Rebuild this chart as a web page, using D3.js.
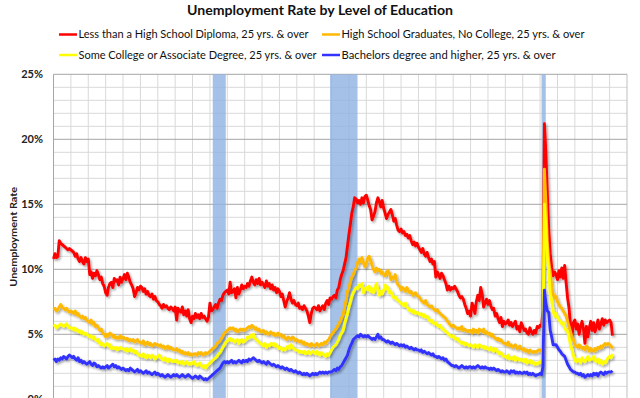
<!DOCTYPE html>
<html>
<head>
<meta charset="utf-8">
<script src="https://cdn.jsdelivr.net/npm/d3@7"></script>
<style>
  body { margin: 0; background: #fff; }
  svg { display: block; font-family: Lato, "Liberation Sans", sans-serif; }
</style>
</head>
<body>
<div id="chart"></div>
<script>
const width = 640;
const height = 398;

// monthly series, Jan 1992 .. Mar 2024 (one row per year)
const startDate = new Date(1992, 0, 1);

const lessThanHS = [
  10.8, 11.2, 10.9, 11.0, 12.2, 12.0, 11.9, 11.8, 11.7, 11.6, 11.5, 11.6, // 1992
  11.5, 11.4, 11.3, 11.0, 11.2, 10.8, 10.6, 10.9, 10.6, 10.4, 10.9, 10.6, // 1993
  10.8, 9.6, 9.8, 9.3, 9.7, 9.5, 9.9, 9.6, 9.2, 9.4, 8.9, 8.7,           // 1994
  8.2, 8.0, 8.6, 8.9, 9.0, 8.6, 9.3, 9.1, 9.2, 8.8, 9.4, 9.0,            // 1995
  9.3, 9.6, 9.2, 9.7, 9.4, 9.0, 8.8, 8.5, 7.9, 8.2, 8.6, 8.4,            // 1996
  8.7, 8.6, 8.3, 8.5, 8.1, 8.3, 8.0, 7.9, 8.1, 7.7, 7.9, 7.6,            // 1997
  7.5, 7.3, 7.2, 7.0, 7.3, 7.1, 7.2, 7.0, 6.9, 7.1, 7.0, 6.8,            // 1998
  7.1, 6.1, 7.0, 6.8, 6.7, 7.1, 6.5, 6.8, 6.4, 6.9, 6.2, 5.9,            // 1999
  6.4, 6.2, 6.6, 6.3, 6.5, 6.2, 6.6, 6.3, 6.4, 6.2, 6.0, 6.3,            // 2000
  7.4, 6.8, 6.9, 7.1, 7.3, 7.0, 7.4, 7.7, 7.6, 8.0, 8.2, 8.3,            // 2001
  8.4, 8.1, 9.0, 8.2, 8.3, 8.5, 7.8, 8.6, 8.1, 8.4, 8.8, 8.5,            // 2002
  8.7, 8.6, 8.9, 8.7, 9.1, 9.4, 9.0, 8.8, 9.2, 8.9, 9.3, 8.8,            // 2003
  9.0, 8.8, 8.6, 9.1, 8.7, 8.9, 8.5, 8.8, 8.4, 8.6, 8.2, 8.5,            // 2004
  8.3, 7.9, 8.1, 7.6, 7.1, 7.5, 7.8, 8.2, 7.7, 7.4, 7.6, 7.3,            // 2005
  7.2, 7.4, 7.0, 7.1, 6.9, 7.2, 7.0, 6.8, 6.4, 5.9, 6.6, 7.0,            // 2006
  7.1, 7.0, 6.9, 7.2, 6.8, 7.0, 7.2, 6.9, 7.4, 7.6, 7.3, 7.8,            // 2007
  7.7, 7.9, 8.0, 7.8, 8.4, 8.6, 9.2, 9.6, 9.9, 10.4, 10.9, 11.8,         // 2008
  12.7, 13.5, 14.3, 14.8, 15.5, 15.4, 15.1, 15.3, 15.0, 15.5, 15.1, 15.6, // 2009
  15.7, 15.3, 14.9, 14.6, 13.8, 14.1, 14.4, 15.1, 15.5, 15.2, 14.8, 15.3, // 2010
  14.7, 14.3, 13.9, 14.2, 14.4, 14.6, 14.2, 13.7, 13.9, 13.4, 13.0, 12.9, // 2011
  13.1, 12.8, 12.9, 12.6, 12.7, 12.4, 12.6, 12.2, 11.9, 12.1, 11.8, 12.0, // 2012
  11.7, 11.5, 11.3, 11.6, 11.2, 11.0, 11.3, 10.9, 10.6, 10.8, 10.4, 10.6, // 2013
  9.4, 9.8, 9.6, 9.3, 9.7, 9.5, 9.2, 8.9, 8.4, 8.7, 8.4, 8.6,            // 2014
  8.5, 8.7, 8.5, 8.3, 8.0, 7.8, 7.9, 7.7, 7.3, 7.0, 6.6, 6.8,            // 2015
  6.4, 7.4, 7.1, 6.6, 7.5, 8.0, 7.6, 8.6, 8.1, 7.1, 7.4, 7.7,            // 2016
  7.3, 7.6, 7.2, 6.9, 7.0, 6.4, 6.6, 6.2, 5.9, 6.3, 5.6, 6.0,            // 2017
  5.8, 5.9, 6.1, 5.7, 5.9, 5.6, 5.8, 6.0, 5.4, 5.6, 5.2, 5.9,            // 2018
  5.6, 5.3, 5.4, 5.1, 5.0, 5.5, 5.2, 5.0, 5.3, 5.1, 5.6, 5.5,            // 2019
  5.7, 5.6, 6.8, 21.2, 19.0, 15.8, 13.0, 11.2, 10.1, 9.5, 9.8, 9.6,      // 2020
  9.2, 9.9, 9.4, 10.1, 9.3, 10.3, 9.0, 7.8, 7.0, 5.7, 4.8, 5.9,          // 2021
  6.1, 5.4, 5.8, 5.0, 5.6, 6.0, 5.4, 4.3, 5.6, 4.8, 5.5, 6.0,            // 2022
  5.3, 5.9, 5.2, 5.6, 6.1, 5.4, 5.8, 6.2, 5.7, 6.1, 5.9, 6.0,            // 2023
  6.1, 5.9, 4.9                                                          // 2024
];

const highSchool = [
  6.9, 7.0, 6.8, 6.9, 7.1, 7.3, 7.1, 7.0, 6.9, 7.0, 6.8, 6.7,  // 1992
  6.8, 6.7, 6.6, 6.8, 6.5, 6.6, 6.4, 6.3, 6.4, 6.2, 6.3, 6.1,  // 1993
  6.0, 5.9, 6.1, 5.8, 5.9, 5.6, 5.7, 5.5, 5.3, 5.4, 5.1, 5.0,  // 1994
  4.8, 5.0, 4.9, 5.1, 5.0, 4.8, 4.9, 4.7, 4.8, 4.7, 4.9, 4.7,  // 1995
  4.8, 4.7, 4.6, 4.7, 4.5, 4.6, 4.5, 4.6, 4.4, 4.5, 4.6, 4.4,  // 1996
  4.4, 4.3, 4.5, 4.2, 4.3, 4.4, 4.2, 4.3, 4.1, 4.2, 4.3, 4.2,  // 1997
  4.2, 4.1, 4.2, 4.0, 4.1, 3.9, 4.0, 4.1, 3.9, 4.0, 3.9, 3.8,  // 1998
  3.8, 3.9, 3.7, 3.8, 3.6, 3.7, 3.5, 3.6, 3.5, 3.6, 3.4, 3.5,  // 1999
  3.4, 3.5, 3.5, 3.4, 3.6, 3.5, 3.6, 3.4, 3.5, 3.6, 3.5, 3.6,  // 2000
  3.7, 3.8, 3.9, 4.0, 4.1, 4.3, 4.4, 4.5, 4.7, 4.9, 5.1, 5.2,  // 2001
  5.3, 5.4, 5.5, 5.4, 5.5, 5.3, 5.4, 5.2, 5.3, 5.4, 5.3, 5.4,  // 2002
  5.3, 5.4, 5.5, 5.6, 5.5, 5.7, 5.6, 5.4, 5.5, 5.3, 5.4, 5.2,  // 2003
  5.2, 5.3, 5.1, 5.2, 5.0, 5.1, 5.2, 5.0, 5.1, 4.9, 5.0, 5.1,  // 2004
  4.9, 5.0, 4.8, 4.9, 4.7, 4.6, 4.8, 4.7, 4.6, 4.8, 4.7, 4.5,  // 2005
  4.6, 4.5, 4.4, 4.5, 4.3, 4.4, 4.2, 4.3, 4.2, 4.1, 4.3, 4.2,  // 2006
  4.1, 4.2, 4.3, 4.1, 4.2, 4.3, 4.2, 4.4, 4.3, 4.5, 4.6, 4.8,  // 2007
  5.0, 5.1, 5.3, 5.4, 5.6, 5.8, 6.0, 6.3, 6.5, 7.1, 7.6, 8.3,  // 2008
  8.6, 9.1, 9.4, 9.6, 9.9, 10.1, 10.5, 10.8, 10.6, 10.9, 10.5, 10.2, // 2009
  10.4, 10.9, 11.0, 10.7, 10.3, 10.0, 9.8, 10.1, 9.9, 10.0, 9.7, 9.8, // 2010
  9.6, 9.5, 9.8, 9.9, 9.7, 9.2, 9.4, 9.3, 9.6, 9.0, 8.8, 8.7,  // 2011
  8.4, 8.6, 8.5, 8.3, 8.6, 8.4, 8.2, 8.3, 8.0, 8.1, 8.2, 8.0,  // 2012
  7.9, 7.8, 7.6, 7.5, 7.4, 7.6, 7.3, 7.2, 7.1, 7.2, 7.0, 6.9,  // 2013
  6.8, 6.9, 6.7, 6.6, 6.5, 6.4, 6.3, 6.2, 6.0, 5.9, 5.7, 5.6,  // 2014
  5.7, 5.6, 5.5, 5.4, 5.5, 5.4, 5.6, 5.3, 5.4, 5.3, 5.2, 5.3,  // 2015
  5.3, 5.1, 5.4, 5.2, 5.3, 5.1, 5.4, 5.3, 5.2, 5.4, 5.1, 5.2,  // 2016
  5.0, 5.1, 4.9, 5.0, 4.8, 4.7, 4.6, 4.7, 4.5, 4.6, 4.4, 4.3,  // 2017
  4.3, 4.2, 4.4, 4.1, 4.2, 4.0, 4.1, 4.2, 3.9, 4.0, 4.1, 3.9,  // 2018
  3.8, 3.9, 3.7, 3.8, 3.6, 3.8, 3.7, 3.6, 3.7, 3.6, 3.7, 3.8,  // 2019
  3.8, 3.7, 4.1, 17.7, 15.3, 12.1, 10.6, 9.8, 8.6, 8.1, 7.8, 7.9, // 2020
  7.5, 7.3, 7.1, 7.0, 6.8, 6.6, 6.4, 6.0, 5.6, 5.2, 4.8, 4.6,  // 2021
  4.2, 4.1, 4.0, 4.2, 4.1, 3.9, 4.0, 3.8, 4.1, 4.0, 3.7, 3.9,  // 2022
  3.8, 3.7, 3.9, 3.8, 4.0, 3.9, 4.1, 4.0, 4.2, 4.3, 4.2, 4.3,  // 2023
  4.2, 4.1, 3.9                                                // 2024
];

const someCollege = [
  5.6, 5.7, 5.5, 5.6, 5.7, 5.8, 5.7, 5.6, 5.7, 5.8, 5.6, 5.5,  // 1992
  5.5, 5.4, 5.5, 5.3, 5.4, 5.2, 5.3, 5.1, 5.2, 5.0, 5.1, 5.0,  // 1993
  4.9, 4.8, 4.9, 4.7, 4.8, 4.6, 4.5, 4.6, 4.3, 4.2, 4.3, 4.1,  // 1994
  4.2, 4.3, 4.1, 4.2, 3.9, 4.0, 3.9, 4.0, 3.8, 3.9, 4.0, 3.9,  // 1995
  3.9, 3.8, 3.9, 3.7, 3.8, 3.9, 3.7, 3.8, 3.6, 3.7, 3.5, 3.4,  // 1996
  3.4, 3.3, 3.5, 3.3, 3.2, 3.4, 3.3, 3.2, 3.4, 3.3, 3.1, 3.2,  // 1997
  3.3, 3.4, 3.2, 3.1, 3.0, 3.2, 3.0, 2.9, 3.1, 3.0, 2.9, 3.0,  // 1998
  2.9, 3.0, 2.8, 2.9, 2.8, 2.9, 2.7, 2.8, 2.9, 2.7, 2.8, 2.7,  // 1999
  2.8, 2.9, 2.7, 2.6, 2.7, 2.8, 2.6, 2.5, 2.6, 2.4, 2.6, 2.7,  // 2000
  2.8, 2.9, 3.0, 3.1, 3.2, 3.3, 3.5, 3.6, 3.8, 4.0, 4.2, 4.4,  // 2001
  4.5, 4.6, 4.7, 4.5, 4.6, 4.4, 4.5, 4.6, 4.3, 4.5, 4.6, 4.4,  // 2002
  4.5, 4.6, 4.8, 4.7, 4.9, 4.8, 5.0, 4.7, 4.6, 4.5, 4.4, 4.3,  // 2003
  4.2, 4.1, 4.3, 4.0, 4.2, 4.1, 4.3, 4.2, 4.3, 4.1, 4.2, 4.0,  // 2004
  3.9, 4.0, 3.8, 3.9, 3.8, 4.0, 4.1, 3.9, 4.2, 4.0, 3.9, 3.8,  // 2005
  3.8, 3.7, 3.6, 3.7, 3.6, 3.7, 3.5, 3.6, 3.7, 3.5, 3.6, 3.7,  // 2006
  3.6, 3.5, 3.7, 3.5, 3.4, 3.6, 3.5, 3.4, 3.3, 3.5, 3.4, 3.6,  // 2007
  3.8, 4.0, 4.1, 4.2, 4.4, 4.6, 4.9, 5.1, 5.3, 5.8, 6.2, 6.6,  // 2008
  7.1, 7.5, 7.9, 8.2, 8.4, 8.6, 8.5, 8.8, 8.7, 8.9, 8.2, 8.5,  // 2009
  8.6, 8.4, 8.7, 8.3, 8.5, 8.2, 8.6, 8.9, 8.4, 8.0, 8.3, 8.1,  // 2010
  8.4, 8.8, 8.5, 8.6, 8.2, 8.3, 8.0, 7.8, 7.9, 7.7, 7.6, 7.5,  // 2011
  7.4, 7.3, 7.2, 7.4, 7.1, 7.0, 6.8, 6.9, 6.7, 6.8, 6.6, 6.7,  // 2012
  6.6, 6.5, 6.6, 6.4, 6.5, 6.3, 6.4, 6.2, 6.0, 6.1, 5.9, 5.8,  // 2013
  5.9, 5.7, 5.6, 5.7, 5.5, 5.4, 5.3, 5.2, 5.1, 5.0, 4.9, 4.8,  // 2014
  4.9, 4.7, 4.6, 4.7, 4.5, 4.4, 4.3, 4.4, 4.2, 4.3, 4.2, 4.1,  // 2015
  4.2, 4.1, 4.0, 4.2, 4.1, 4.0, 4.2, 4.1, 4.0, 4.1, 3.9, 4.0,  // 2016
  3.9, 3.8, 4.0, 3.8, 3.7, 3.9, 3.8, 3.6, 3.5, 3.6, 3.4, 3.3,  // 2017
  3.3, 3.2, 3.4, 3.1, 3.2, 3.1, 3.3, 3.0, 3.2, 3.1, 3.0, 3.1,  // 2018
  3.0, 2.9, 3.1, 2.8, 2.9, 3.0, 2.8, 2.9, 2.7, 2.8, 2.7, 2.8,  // 2019
  2.9, 2.8, 3.4, 15.0, 13.3, 11.0, 10.0, 8.1, 7.6, 6.8, 6.4, 6.6, // 2020
  6.3, 6.1, 6.0, 5.8, 5.9, 5.5, 5.3, 5.2, 4.8, 4.2, 3.8, 3.4,  // 2021
  3.0, 2.9, 3.1, 3.0, 2.8, 3.2, 3.0, 2.9, 3.1, 3.3, 3.0, 3.1,  // 2022
  3.1, 3.3, 3.0, 2.9, 3.1, 2.8, 3.0, 2.7, 2.9, 2.8, 3.0, 3.2,  // 2023
  3.3, 3.2, 3.5                                                // 2024
];

const bachelors = [
  3.0, 3.1, 2.9, 3.1, 3.0, 3.2, 3.1, 3.3, 3.2, 3.1, 3.3, 3.4,  // 1992
  3.3, 3.2, 3.3, 3.1, 3.0, 3.2, 2.9, 3.0, 2.8, 2.9, 2.8, 2.7,  // 1993
  2.8, 2.9, 2.7, 2.6, 2.8, 2.7, 2.5, 2.6, 2.5, 2.4, 2.5, 2.4,  // 1994
  2.5, 2.6, 2.4, 2.5, 2.6, 2.7, 2.5, 2.6, 2.4, 2.5, 2.4, 2.3,  // 1995
  2.4, 2.3, 2.2, 2.3, 2.2, 2.4, 2.3, 2.2, 2.1, 2.2, 2.3, 2.1,  // 1996
  2.2, 2.1, 2.0, 2.1, 2.2, 2.0, 2.1, 2.0, 1.9, 2.0, 2.1, 1.9,  // 1997
  2.0, 1.9, 1.8, 1.9, 1.8, 1.7, 1.8, 1.9, 1.8, 1.7, 1.8, 1.9,  // 1998
  1.8, 1.9, 1.8, 1.7, 1.8, 1.9, 1.8, 1.7, 1.8, 1.9, 1.8, 1.7,  // 1999
  1.6, 1.7, 1.8, 1.7, 1.6, 1.8, 1.7, 1.6, 1.5, 1.6, 1.5, 1.6,  // 2000
  1.7, 1.8, 1.9, 2.0, 2.1, 2.2, 2.3, 2.4, 2.6, 2.8, 2.9, 2.8,  // 2001
  2.9, 2.8, 2.9, 3.0, 2.8, 2.9, 2.8, 2.9, 3.0, 2.9, 2.8, 3.0,  // 2002
  2.9, 3.0, 2.9, 3.1, 3.0, 3.1, 3.2, 3.1, 3.0, 2.9, 3.0, 2.9,  // 2003
  2.8, 2.9, 2.8, 2.7, 2.9, 2.8, 2.7, 2.6, 2.7, 2.6, 2.5, 2.6,  // 2004
  2.5, 2.4, 2.5, 2.4, 2.3, 2.4, 2.3, 2.2, 2.3, 2.2, 2.1, 2.2,  // 2005
  2.1, 2.0, 2.1, 2.0, 1.9, 2.0, 1.9, 2.0, 1.9, 1.8, 1.9, 2.0,  // 2006
  1.9, 2.0, 1.9, 2.0, 2.1, 2.0, 2.1, 2.0, 2.1, 2.0, 2.1, 2.1,  // 2007
  2.1, 2.2, 2.3, 2.2, 2.4, 2.3, 2.5, 2.6, 2.8, 3.0, 3.2, 3.4,  // 2008
  3.8, 4.1, 4.3, 4.6, 4.7, 4.8, 4.9, 4.8, 5.0, 4.9, 4.8, 4.9,  // 2009
  4.8, 4.9, 4.8, 4.7, 4.6, 4.7, 4.6, 4.8, 5.0, 4.7, 4.8, 4.6,  // 2010
  4.6, 4.5, 4.4, 4.5, 4.4, 4.3, 4.4, 4.3, 4.2, 4.3, 4.2, 4.1,  // 2011
  4.2, 4.1, 4.2, 4.0, 4.1, 4.0, 3.9, 4.0, 3.9, 3.8, 3.9, 3.8,  // 2012
  3.8, 3.7, 3.8, 3.6, 3.7, 3.6, 3.5, 3.6, 3.5, 3.4, 3.5, 3.3,  // 2013
  3.3, 3.2, 3.3, 3.2, 3.1, 3.2, 3.0, 3.1, 2.9, 2.8, 2.7, 2.6,  // 2014
  2.6, 2.5, 2.6, 2.5, 2.4, 2.5, 2.6, 2.5, 2.4, 2.5, 2.4, 2.5,  // 2015
  2.5, 2.4, 2.5, 2.4, 2.5, 2.6, 2.5, 2.4, 2.5, 2.4, 2.5, 2.4,  // 2016
  2.4, 2.3, 2.4, 2.3, 2.4, 2.3, 2.2, 2.3, 2.2, 2.1, 2.2, 2.1,  // 2017
  2.1, 2.2, 2.1, 2.0, 2.2, 2.1, 2.2, 2.0, 2.1, 2.0, 2.1, 2.0,  // 2018
  2.0, 2.1, 2.0, 2.1, 1.9, 2.0, 1.9, 2.0, 1.9, 1.8, 1.9, 1.9,  // 2019
  2.0, 1.9, 2.5, 8.4, 7.4, 6.8, 6.7, 5.3, 4.8, 4.2, 4.2, 4.2,  // 2020
  4.0, 3.8, 3.7, 3.5, 3.4, 3.3, 3.0, 2.7, 2.5, 2.3, 2.2, 2.1,  // 2021
  2.1, 2.0, 2.0, 1.9, 2.0, 1.8, 1.9, 1.7, 1.8, 1.9, 1.8, 1.9,  // 2022
  1.8, 2.0, 1.9, 2.0, 1.8, 2.0, 2.1, 2.0, 1.9, 2.1, 2.0, 2.1,  // 2023
  2.1, 2.1, 2.2                                                // 2024
];

const seriesNames = [
  "Less than a High School Diploma, 25 yrs. & over",
  "High School Graduates, No College, 25 yrs. & over",
  "Some College or Associate Degree, 25 yrs. & over",
  "Bachelors degree and higher, 25 yrs. & over"
];
const seriesValues = [lessThanHS, highSchool, someCollege, bachelors];
const seriesColors = ["#ff0000", "#ffb900", "#ffff00", "#3333ff"];

// recessions (start month, end month)
const recessions = [
  ["2001-03-01", "2001-11-30"],
  ["2007-12-01", "2009-06-30"],
  ["2020-02-01", "2020-04-30"]
];

const yTicks = [0, 5, 10, 15, 20, 25];

const margin = { top: 74.3, right: 13, bottom: -1.3, left: 53.5 };

const svg = d3.select("#chart").append("svg")
  .attr("width", width)
  .attr("height", height);

const defs = svg.append("defs");
const shadow = defs.append("filter").attr("id", "shadow")
  .attr("x", "-5%").attr("y", "-5%").attr("width", "110%").attr("height", "110%");
shadow.append("feDropShadow")
  .attr("dx", 1.5).attr("dy", 1.8).attr("stdDeviation", 0.9)
  .attr("flood-color", "#000").attr("flood-opacity", 0.35);

const x = d3.scaleTime()
  .domain([new Date(1992, 0, 1), new Date(2025, 0, 1)])
  .range([margin.left, width - margin.right]);

const y = d3.scaleLinear()
  .domain([0, 25])
  .range([height - margin.bottom, margin.top]);

// horizontal grid: minor every 1%, major every 5%
const g = svg.append("g");
g.selectAll("line.minor")
  .data(d3.range(1, 25).filter(v => v % 5 !== 0))
  .join("line")
  .attr("x1", x.range()[0]).attr("x2", x.range()[1])
  .attr("y1", d => y(d)).attr("y2", d => y(d))
  .attr("stroke", "#d9d9d9").attr("stroke-width", 1);

// vertical grid, one per year
g.selectAll("line.year")
  .data(d3.range(1993, 2026))
  .join("line")
  .attr("x1", d => x(new Date(d, 0, 1))).attr("x2", d => x(new Date(d, 0, 1)))
  .attr("y1", y(25)).attr("y2", y(0))
  .attr("stroke", d => d === 2025 ? "#bfbfbf" : "#d9d9d9").attr("stroke-width", 1);

g.selectAll("line.major")
  .data(yTicks.filter(v => v > 0))
  .join("line")
  .attr("x1", x.range()[0]).attr("x2", x.range()[1])
  .attr("y1", d => y(d)).attr("y2", d => y(d))
  .attr("stroke", "#a6a6a6").attr("stroke-width", 1);

// recession bars
svg.append("g").selectAll("rect")
  .data(recessions)
  .join("rect")
  .attr("x", d => x(new Date(d[0])))
  .attr("width", d => x(new Date(d[1])) - x(new Date(d[0])))
  .attr("y", y(25))
  .attr("height", y(0) - y(25))
  .attr("fill", "#8fb2e2")
  .attr("opacity", 0.8);

// left axis line
svg.append("line")
  .attr("x1", x.range()[0]).attr("x2", x.range()[0])
  .attr("y1", y(25)).attr("y2", y(0))
  .attr("stroke", "#a6a6a6");

// y tick labels
svg.append("g").selectAll("text")
  .data(yTicks)
  .join("text")
  .attr("x", 43)
  .attr("y", d => y(d))
  .attr("dy", "0.35em")
  .attr("text-anchor", "end")
  .attr("font-size", 11)
  .attr("font-weight", "bold")
  .attr("fill", "#222")
  .text(d => d + "%");

svg.append("text")
  .attr("transform", `translate(17,${y(12.5)}) rotate(-90)`)
  .attr("text-anchor", "middle")
  .attr("font-size", 10)
  .attr("font-weight", "bold")
  .attr("fill", "#222")
  .attr("textLength", 100)
  .attr("lengthAdjust", "spacingAndGlyphs")
  .text("Unemployment Rate");

// lines
const line = d3.line()
  .x((d, i) => x(d3.timeMonth.offset(startDate, i)))
  .y(d => y(d));

svg.append("g").attr("filter", "url(#shadow)")
  .selectAll("path")
  .data(seriesValues)
  .join("path")
  .attr("d", d => line(d))
  .attr("fill", "none")
  .attr("stroke", (d, i) => seriesColors[i])
  .attr("stroke-width", 2.9)
  .attr("stroke-linejoin", "round");

// title
svg.append("text")
  .attr("x", 320)
  .attr("y", 15)
  .attr("text-anchor", "middle")
  .attr("font-size", 14)
  .attr("font-weight", "bold")
  .attr("fill", "#111")
  .attr("textLength", 266)
  .attr("lengthAdjust", "spacingAndGlyphs")
  .text("Unemployment Rate by Level of Education");

// legend
const legendPos = [[59, 34.5], [322, 34.5], [59, 55], [322, 55]];
const legendWidths = [230, 243, 238, 214];
const legend = svg.append("g").selectAll("g")
  .data(seriesNames)
  .join("g")
  .attr("transform", (d, i) => `translate(${legendPos[i][0]},${legendPos[i][1]})`);

legend.append("line")
  .attr("x1", 0).attr("x2", 18)
  .attr("stroke", (d, i) => seriesColors[i])
  .attr("stroke-width", 2.5);

legend.append("text")
  .attr("x", 19.5)
  .attr("dy", "0.35em")
  .attr("font-size", 11)
  .attr("fill", "#111")
  .attr("textLength", (d, i) => legendWidths[i])
  .attr("lengthAdjust", "spacingAndGlyphs")
  .text(d => d);
</script>
</body>
</html>
